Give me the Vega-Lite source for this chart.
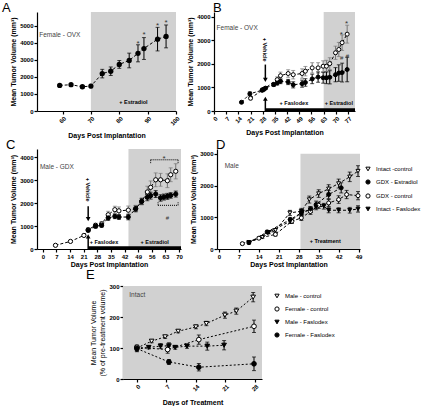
{
"$schema":"https://vega.github.io/schema/vega-lite/v6.json",
"background":"white",
"padding":{"left":2,"top":2,"right":0,"bottom":0},
"config":{
 "font":"Liberation Sans",
 "view":{"stroke":null},
 "axis":{"grid":false,"domainColor":"black","domainWidth":1.2,"tickColor":"black","tickWidth":1.2,"tickSize":3,"labelColor":"black","labelFontSize":6,"labelFontWeight":"bold","labelPadding":1,"titleColor":"black","titleFontSize":7,"titleFontWeight":"bold","titlePadding":3},
 "title":{"fontSize":13,"fontWeight":"normal","anchor":"start","frame":"group","color":"black"},
 "legend":{"labelFontSize":6,"labelColor":"black","symbolStrokeWidth":1,"symbolSize":18,"labelOffset":5,"padding":0,"rowPadding":4}
},
"datasets":{
 "A":[{"x":59,"v":1500,"e":50},{"x":63,"v":1540,"e":60},{"x":67,"v":1420,"e":70},{"x":70,"v":1460,"e":100},{"x":74,"v":2190,"e":250},{"x":77,"v":2330,"e":250},{"x":80,"v":2730,"e":230},{"x":83.5,"v":2960,"e":430},{"x":86.6,"v":3380,"e":500},{"x":88.7,"v":3660,"e":640},{"x":93.5,"v":4210,"e":690},{"x":96.5,"v":4370,"e":670}],
 "B":[
  {"s":"veh","x":21,"v":540,"e":60},{"s":"veh","x":28,"v":900,"e":80},{"s":"veh","x":36.3,"v":1330,"e":120},{"s":"veh","x":38.2,"v":1500,"e":150},{"s":"veh","x":42.6,"v":1590,"e":160},{"s":"veh","x":45.5,"v":1540,"e":180},{"s":"veh","x":50.6,"v":1590,"e":200},{"s":"veh","x":52.5,"v":1690,"e":200},{"s":"veh","x":56.4,"v":1830,"e":220},{"s":"veh","x":59.8,"v":1830,"e":220},{"s":"veh","x":62.7,"v":1900,"e":230},{"s":"veh","x":64.6,"v":1900,"e":250},{"s":"veh","x":66.5,"v":2010,"e":250},{"s":"veh","x":69.8,"v":2470,"e":280},{"s":"veh","x":71.7,"v":2610,"e":300},{"s":"veh","x":73.6,"v":2900,"e":330},{"s":"veh","x":76.5,"v":3260,"e":380},
  {"s":"fas","x":15.8,"v":370,"e":40},{"s":"fas","x":20.6,"v":730,"e":80},{"s":"fas","x":27.6,"v":880,"e":60},{"s":"fas","x":28.6,"v":920,"e":60},{"s":"fas","x":29.6,"v":970,"e":60},{"s":"fas","x":34.3,"v":1120,"e":80},{"s":"fas","x":36.3,"v":1190,"e":90},{"s":"fas","x":38.2,"v":1260,"e":100},{"s":"fas","x":42.6,"v":1230,"e":110},{"s":"fas","x":45.5,"v":1110,"e":130},{"s":"fas","x":50.6,"v":1160,"e":150},{"s":"fas","x":52.5,"v":1210,"e":160},{"s":"fas","x":56.4,"v":1360,"e":200},{"s":"fas","x":59.8,"v":1440,"e":220},{"s":"fas","x":62.7,"v":1410,"e":230},{"s":"fas","x":64.6,"v":1410,"e":250},{"s":"fas","x":66.5,"v":1430,"e":280},{"s":"fas","x":69.8,"v":1540,"e":300},{"s":"fas","x":71.7,"v":1610,"e":350},{"s":"fas","x":73.6,"v":1630,"e":400},{"s":"fas","x":76.5,"v":1760,"e":520}],
 "C":[
  {"s":"veh","x":6.5,"v":160,"e":30},{"s":"veh","x":14.2,"v":330,"e":40},{"s":"veh","x":21.1,"v":590,"e":50},{"s":"veh","x":23.3,"v":840,"e":80},{"s":"veh","x":27.1,"v":1030,"e":90},{"s":"veh","x":30.2,"v":1090,"e":100},{"s":"veh","x":33.6,"v":1490,"e":150},{"s":"veh","x":37,"v":1710,"e":150},{"s":"veh","x":39.1,"v":1660,"e":170},{"s":"veh","x":43.9,"v":1690,"e":180},{"s":"veh","x":47.7,"v":1750,"e":150},{"s":"veh","x":50.8,"v":2070,"e":150},{"s":"veh","x":53.7,"v":2480,"e":250},{"s":"veh","x":55.4,"v":2680,"e":280},{"s":"veh","x":58,"v":3010,"e":300},{"s":"veh","x":60.5,"v":3010,"e":280},{"s":"veh","x":64,"v":2970,"e":300},{"s":"veh","x":65.7,"v":3230,"e":300},{"s":"veh","x":68.3,"v":3380,"e":330},
  {"s":"fas","x":23.3,"v":810,"e":60},{"s":"fas","x":27.1,"v":990,"e":80},{"s":"fas","x":30.2,"v":1030,"e":80},{"s":"fas","x":33.6,"v":1350,"e":100},{"s":"fas","x":37,"v":1420,"e":100},{"s":"fas","x":39.1,"v":1390,"e":100},{"s":"fas","x":43.9,"v":1390,"e":120},{"s":"fas","x":47.7,"v":1750,"e":120},{"s":"fas","x":50.8,"v":2070,"e":130},{"s":"fas","x":53.7,"v":2250,"e":150},{"s":"fas","x":55.4,"v":2320,"e":150},{"s":"fas","x":58,"v":2390,"e":150},{"s":"fas","x":60.5,"v":2220,"e":140},{"s":"fas","x":62.2,"v":2260,"e":130},{"s":"fas","x":64,"v":2290,"e":130},{"s":"fas","x":65.7,"v":2330,"e":120},{"s":"fas","x":68.3,"v":2390,"e":130}],
 "D":[
  {"s":"Intact -control","x":10.5,"v":212,"e":30},{"s":"Intact -control","x":15.2,"v":369,"e":40},{"s":"Intact -control","x":19.8,"v":590,"e":50},{"s":"Intact -control","x":24.9,"v":1137,"e":80},{"s":"Intact -control","x":28.9,"v":1190,"e":90},{"s":"Intact -control","x":31.7,"v":1557,"e":110},{"s":"Intact -control","x":35,"v":1746,"e":120},{"s":"Intact -control","x":38.5,"v":1895,"e":130},{"s":"Intact -control","x":42,"v":2062,"e":140},{"s":"Intact -control","x":45.9,"v":2273,"e":150},{"s":"Intact -control","x":48.8,"v":2454,"e":170},
  {"s":"GDX - Estradiol","x":10.5,"v":200,"e":30},{"s":"GDX - Estradiol","x":16.9,"v":537,"e":50},{"s":"GDX - Estradiol","x":25,"v":926,"e":70},{"s":"GDX - Estradiol","x":28.9,"v":1137,"e":80},{"s":"GDX - Estradiol","x":32.1,"v":1242,"e":90},{"s":"GDX - Estradiol","x":34.1,"v":1400,"e":110},{"s":"GDX - Estradiol","x":38.5,"v":1716,"e":130},{"s":"GDX - Estradiol","x":42.9,"v":1926,"e":160},
  {"s":"GDX - control","x":8.2,"v":168,"e":30},{"s":"GDX - control","x":14,"v":340,"e":40},{"s":"GDX - control","x":19.8,"v":460,"e":50},{"s":"GDX - control","x":25.6,"v":874,"e":70},{"s":"GDX - control","x":28.9,"v":979,"e":80},{"s":"GDX - control","x":32.1,"v":1180,"e":90},{"s":"GDX - control","x":35,"v":1378,"e":100},{"s":"GDX - control","x":38.5,"v":1450,"e":110},{"s":"GDX - control","x":42,"v":1557,"e":120},{"s":"GDX - control","x":44.8,"v":1716,"e":130},{"s":"GDX - control","x":48.8,"v":1680,"e":130},
  {"s":"Intact - Faslodex","x":10.5,"v":190,"e":30},{"s":"Intact - Faslodex","x":17.5,"v":527,"e":50},{"s":"Intact - Faslodex","x":25,"v":874,"e":70},{"s":"Intact - Faslodex","x":29.2,"v":1158,"e":80},{"s":"Intact - Faslodex","x":32.1,"v":1242,"e":90},{"s":"Intact - Faslodex","x":34.1,"v":1326,"e":90},{"s":"Intact - Faslodex","x":36.8,"v":1347,"e":90},{"s":"Intact - Faslodex","x":38.5,"v":1221,"e":80},{"s":"Intact - Faslodex","x":42,"v":1221,"e":80},{"s":"Intact - Faslodex","x":45.9,"v":1221,"e":90},{"s":"Intact - Faslodex","x":48.8,"v":1263,"e":100}],
 "E":[
  {"s":"Male - control","x":0,"v":100,"e":5},{"s":"Male - control","x":3.5,"v":122,"e":5},{"s":"Male - control","x":6.7,"v":136,"e":5},{"s":"Male - control","x":9.8,"v":154,"e":5},{"s":"Male - control","x":14,"v":168,"e":6},{"s":"Male - control","x":16.5,"v":179,"e":7},{"s":"Male - control","x":20.9,"v":206,"e":10},{"s":"Male - control","x":23.6,"v":219,"e":10},{"s":"Male - control","x":27.6,"v":264,"e":15},
  {"s":"Female - control","x":0,"v":102,"e":8},{"s":"Female - control","x":7.3,"v":95,"e":12},{"s":"Female - control","x":14.7,"v":127,"e":15},{"s":"Female - control","x":27.8,"v":170,"e":20},
  {"s":"Male - Faslodex","x":0,"v":96,"e":8},{"s":"Male - Faslodex","x":2.8,"v":102,"e":5},{"s":"Male - Faslodex","x":5.6,"v":106,"e":8},{"s":"Male - Faslodex","x":7.6,"v":107,"e":10},{"s":"Male - Faslodex","x":9.1,"v":102,"e":6},{"s":"Male - Faslodex","x":11.9,"v":106,"e":7},{"s":"Male - Faslodex","x":16.7,"v":106,"e":13},{"s":"Male - Faslodex","x":20.7,"v":109,"e":15},
  {"s":"Female - Faslodex","x":0,"v":98,"e":8},{"s":"Female - Faslodex","x":7.6,"v":55,"e":8},{"s":"Female - Faslodex","x":14.7,"v":38,"e":12},{"s":"Female - Faslodex","x":27.8,"v":49,"e":22}]
},
"resolve":{"scale":{"color":"independent","fill":"independent","shape":"independent","stroke":"independent"}},
"spacing":2,
"center":true,
"vconcat":[
 {"resolve":{"scale":{"color":"independent","fill":"independent","shape":"independent","stroke":"independent"}},
  "vconcat":[
  {"resolve":{"scale":{"color":"independent","fill":"independent","shape":"independent","stroke":"independent"}},
   "hconcat":[
   {"title":{"text":"A","dx":-35,"offset":-3},
    "width":139,"height":99,
    "data":{"name":"A"},
    "encoding":{
     "x":{"field":"x","type":"quantitative","scale":{"domain":[51,100],"nice":false,"zero":false},"axis":{"title":"Days Post Implantation","values":[60,70,80,90,100],"labelAngle":-45,"titlePadding":5}},
     "y":{"field":"v","type":"quantitative","scale":{"domain":[0,5800],"nice":false},"axis":{"title":"Mean Tumor Volume (mm³)","values":[0,1000,2000,3000,4000,5000],"format":"d"}}},
    "layer":[
     {"data":{"values":[{"x":70,"x2":100,"v":0,"v2":5800}]},"mark":{"type":"rect","color":"#d1d1d1"},"encoding":{"x2":{"field":"x2"},"y2":{"field":"v2"}}},
     {"data":{"values":[{"x":51.8,"v":4450,"t":"Female - OVX"}]},"mark":{"type":"text","fontSize":6.5,"align":"left","color":"#444"},"encoding":{"text":{"field":"t"}}},
     {"data":{"values":[{"x":85,"v":500,"t":"+ Estradiol"}]},"mark":{"type":"text","fontSize":5.5,"fontWeight":"bold"},"encoding":{"text":{"field":"t"}}},
     {"mark":{"type":"errorbar","color":"black","thickness":1,"size":4,"ticks":true},"encoding":{"yError":{"field":"e"}}},
     {"mark":{"type":"line","color":"black","strokeWidth":1,"strokeDash":[3,2]},"encoding":{}},
     {"mark":{"type":"circle","color":"black","size":28,"opacity":1},"encoding":{}},
     {"data":{"values":[{"x":86.6,"v":3950,"t":"*"},{"x":88.7,"v":4440,"t":"*"},{"x":93.5,"v":5000,"t":"*"},{"x":96.5,"v":5150,"t":"*"}]},"mark":{"type":"text","fontSize":8,"color":"#333"},"encoding":{"text":{"field":"t"}}}
    ]},
   {"title":{"text":"B","dx":-1,"offset":-3},
    "width":141,"height":99,
    "data":{"name":"B"},
    "encoding":{
     "x":{"field":"x","type":"quantitative","scale":{"domain":[0,81],"nice":false},"axis":{"title":"Days Post Implantation","values":[0,7,14,21,28,35,42,49,56,63,70,77],"labelAngle":-45,"titlePadding":5}},
     "y":{"field":"v","type":"quantitative","scale":{"domain":[0,4200],"nice":false},"axis":{"title":"Mean Tumor Volume (mm³)","values":[0,1000,2000,3000,4000],"format":"d"}}},
    "layer":[
     {"data":{"values":[{"x":63,"x2":81,"v":0,"v2":4200}]},"mark":{"type":"rect","color":"#d1d1d1"},"encoding":{"x2":{"field":"x2"},"y2":{"field":"v2"}}},
     {"data":{"values":[{"x":1.5,"v":3530,"t":"Female - OVX"}]},"mark":{"type":"text","fontSize":6.5,"align":"left","color":"#444"},"encoding":{"text":{"field":"t"}}},
     {"data":{"values":[{"x":29.5,"x2":81,"v":55}]},"mark":{"type":"rule","color":"black","strokeWidth":3},"encoding":{"x2":{"field":"x2"}}},
     {"data":{"values":[{"x":29.5,"v":2600,"t":"+ Vehicle"}]},"mark":{"type":"text","fontSize":5.5,"fontWeight":"bold","angle":90},"encoding":{"text":{"field":"t"}}},
     {"data":{"values":[{"x":29.5,"v":1970,"v2":1330},{"x":29.5,"v":0,"v2":500}]},"mark":{"type":"rule","color":"black","strokeWidth":1.5},"encoding":{"y2":{"field":"v2"}}},
     {"data":{"values":[{"x":29.5,"v":1320,"d":"down"},{"x":29.5,"v":520,"d":"up"}]},"mark":{"type":"point","filled":true,"color":"black","size":22,"opacity":1},"encoding":{"shape":{"field":"d","type":"nominal","scale":{"domain":["down","up"],"range":["triangle-down","triangle-up"]},"legend":null}}},
     {"data":{"values":[{"x":45.9,"v":340,"t":"+ Faslodex"},{"x":71.7,"v":340,"t":"+ Estradiol"}]},"mark":{"type":"text","fontSize":5.5,"fontWeight":"bold"},"encoding":{"text":{"field":"t"}}},
     {"mark":{"type":"errorbar","thickness":1,"size":4,"ticks":true},"encoding":{"yError":{"field":"e"},"color":{"field":"s","type":"nominal","scale":{"domain":["veh","fas"],"range":["#777777","black"]},"legend":null}}},
     {"mark":{"type":"line","color":"black","strokeWidth":1,"strokeDash":[3,2]},"encoding":{"detail":{"field":"s"}}},
     {"mark":{"type":"point","stroke":"black","strokeWidth":1,"opacity":1,"size":16},"encoding":{"fill":{"field":"s","type":"nominal","scale":{"domain":["veh","fas"],"range":["white","black"]},"legend":null}}},
     {"data":{"values":[{"x":76.1,"v":3680,"t":"*"},{"x":73.2,"v":3210,"t":"*"}]},"mark":{"type":"text","fontSize":8,"color":"#333"},"encoding":{"text":{"field":"t"}}},
     {"data":{"values":[{"x":76.7,"v":2350,"t":"#"},{"x":73.4,"v":2250,"t":"#"}]},"mark":{"type":"text","fontSize":6,"color":"#333","baseline":"middle"},"encoding":{"text":{"field":"t"}}}
    ]}
  ],"spacing":5},
  {"resolve":{"scale":{"color":"independent","fill":"independent","shape":"independent","stroke":"independent"}},
   "hconcat":[
   {"title":{"text":"C","dx":-31,"offset":-3},
    "width":144,"height":100,
    "data":{"name":"C"},
    "encoding":{
     "x":{"field":"x","type":"quantitative","scale":{"domain":[-3,71],"nice":false,"zero":false},"axis":{"title":"Days Post Implantation","values":[0,7,14,21,28,35,42,49,56,63,70],"labelAngle":0,"titlePadding":1}},
     "y":{"field":"v","type":"quantitative","scale":{"domain":[0,4350],"nice":false},"axis":{"title":"Mean Tumor Volume (mm³)","values":[0,1000,2000,3000,4000],"format":"d"}}},
    "layer":[
     {"data":{"values":[{"x":44,"x2":71,"v":0,"v2":4350}]},"mark":{"type":"rect","color":"#d1d1d1"},"encoding":{"x2":{"field":"x2"},"y2":{"field":"v2"}}},
     {"data":{"values":[{"x":-1.5,"v":3550,"t":"Male - GDX"}]},"mark":{"type":"text","fontSize":6.5,"align":"left","color":"#444"},"encoding":{"text":{"field":"t"}}},
     {"data":{"values":[{"x":23.3,"x2":71,"v":55}]},"mark":{"type":"rule","color":"black","strokeWidth":3},"encoding":{"x2":{"field":"x2"}}},
     {"data":{"values":[{"x":23.3,"v":2580,"t":"+ Vehicle"}]},"mark":{"type":"text","fontSize":5.5,"fontWeight":"bold","angle":90},"encoding":{"text":{"field":"t"}}},
     {"data":{"values":[{"x":23.3,"v":1855,"v2":1330},{"x":23.3,"v":0,"v2":520}]},"mark":{"type":"rule","color":"black","strokeWidth":1.5},"encoding":{"y2":{"field":"v2"}}},
     {"data":{"values":[{"x":23.3,"v":1300,"d":"down"},{"x":23.3,"v":550,"d":"up"}]},"mark":{"type":"point","filled":true,"color":"black","size":22,"opacity":1},"encoding":{"shape":{"field":"d","type":"nominal","scale":{"domain":["down","up"],"range":["triangle-down","triangle-up"]},"legend":null}}},
     {"data":{"values":[{"x":31.4,"v":300,"t":"+ Faslodex"},{"x":57.5,"v":300,"t":"+ Estradiol"}]},"mark":{"type":"text","fontSize":5.5,"fontWeight":"bold"},"encoding":{"text":{"field":"t"}}},
     {"data":{"values":[{"x":55.4,"x2":69.5,"v":3880},{"x":59.2,"x2":69.5,"v":1900}]},"mark":{"type":"rule","color":"black","strokeWidth":1,"strokeDash":[1,1]},"encoding":{"x2":{"field":"x2"}}},
     {"data":{"values":[{"x":55.4,"v":3880,"v2":3700},{"x":69.5,"v":3880,"v2":3700},{"x":59.2,"v":1900,"v2":2070},{"x":69.5,"v":1900,"v2":2070}]},"mark":{"type":"rule","color":"black","strokeWidth":1,"strokeDash":[1,1]},"encoding":{"y2":{"field":"v2"}}},
     {"data":{"values":[{"x":62.3,"v":3900,"t":"*"}]},"mark":{"type":"text","fontSize":8,"color":"#333"},"encoding":{"text":{"field":"t"}}},
     {"data":{"values":[{"x":64,"v":1350,"t":"#"}]},"mark":{"type":"text","fontSize":6,"color":"#333","baseline":"middle"},"encoding":{"text":{"field":"t"}}},
     {"mark":{"type":"errorbar","thickness":1,"size":4,"ticks":true},"encoding":{"yError":{"field":"e"},"color":{"field":"s","type":"nominal","scale":{"domain":["veh","fas"],"range":["#777777","black"]},"legend":null}}},
     {"mark":{"type":"line","color":"black","strokeWidth":1,"strokeDash":[3,2]},"encoding":{"detail":{"field":"s"}}},
     {"mark":{"type":"point","stroke":"black","strokeWidth":1,"opacity":1,"size":18},"encoding":{"fill":{"field":"s","type":"nominal","scale":{"domain":["veh","fas"],"range":["white","black"]},"legend":null}}}
    ]},
   {"title":{"text":"D","dx":-1,"offset":-3},
    "width":143,"height":100,
    "data":{"name":"D"},
    "encoding":{
     "x":{"field":"x","type":"quantitative","scale":{"domain":[-0.7,49.5],"nice":false,"zero":false},"axis":{"title":"Days Post Implantation","values":[0,7,14,21,28,35,42,49],"labelAngle":0,"titlePadding":1}},
     "y":{"field":"v","type":"quantitative","scale":{"domain":[0,3150],"nice":false},"axis":{"title":"Mean Tumor Volume (mm³)","values":[0,1000,2000,3000],"format":"d"}}},
    "layer":[
     {"data":{"values":[{"x":28.6,"x2":49.5,"v":0,"v2":3000}]},"mark":{"type":"rect","color":"#d1d1d1"},"encoding":{"x2":{"field":"x2"},"y2":{"field":"v2"}}},
     {"data":{"values":[{"x":2,"v":2630,"t":"Male"}]},"mark":{"type":"text","fontSize":6.5,"align":"left","color":"#444"},"encoding":{"text":{"field":"t"}}},
     {"data":{"values":[{"x":37.3,"v":265,"t":"+ Treatment"}]},"mark":{"type":"text","fontSize":5.5,"fontWeight":"bold"},"encoding":{"text":{"field":"t"}}},
     {"mark":{"type":"errorbar","color":"black","thickness":1,"size":4,"ticks":true},"encoding":{"yError":{"field":"e"}}},
     {"mark":{"type":"line","color":"black","strokeWidth":1,"strokeDash":[3,2]},"encoding":{"detail":{"field":"s"}}},
     {"mark":{"type":"point","strokeWidth":1,"opacity":1,"size":16},"encoding":{
       "shape":{"field":"s","type":"nominal","scale":{"domain":["Intact -control","GDX - Estradiol","GDX - control","Intact - Faslodex"],"range":["triangle-down","circle","circle","triangle-down"]},"legend":{"title":null,"orient":"none","legendX":148,"legendY":17}},
       "fill":{"field":"s","type":"nominal","scale":{"domain":["Intact -control","GDX - Estradiol","GDX - control","Intact - Faslodex"],"range":["white","black","white","black"]},"legend":{"title":null,"orient":"none","legendX":148,"legendY":17}},
       "stroke":{"field":"s","type":"nominal","scale":{"domain":["Intact -control","GDX - Estradiol","GDX - control","Intact - Faslodex"],"range":["black","black","black","black"]},"legend":{"title":null,"orient":"none","legendX":148,"legendY":17}}}}
    ]}
  ],"spacing":6}
 ],"spacing":0},
 {"title":{"text":"E","dx":-37,"offset":1},
  "width":139,"height":93,
  "data":{"name":"E"},
  "encoding":{
   "x":{"field":"x","type":"quantitative","scale":{"domain":[-3.3,29.7],"nice":false,"zero":false},"axis":{"title":"Days of Treatment","values":[0,7,14,21,28],"labelAngle":-45,"titlePadding":7}},
   "y":{"field":"v","type":"quantitative","scale":{"domain":[0,300],"nice":false},"axis":{"title":["Mean Tumor Volume","(% of pre-treatment volume)"],"titleFontWeight":"normal","values":[0,100,200,300],"format":"d"}}},
  "layer":[
   {"data":{"values":[{"x":-3.3,"x2":29.7,"v":0,"v2":300}]},"mark":{"type":"rect","color":"#d1d1d1"},"encoding":{"x2":{"field":"x2"},"y2":{"field":"v2"}}},
   {"data":{"values":[{"x":-1.8,"v":271,"t":"Intact"}]},"mark":{"type":"text","fontSize":6.5,"align":"left","color":"#444"},"encoding":{"text":{"field":"t"}}},
   {"mark":{"type":"errorbar","color":"black","thickness":1,"size":4,"ticks":true},"encoding":{"yError":{"field":"e"}}},
   {"mark":{"type":"line","color":"black","strokeWidth":1,"strokeDash":[2,2]},"encoding":{"detail":{"field":"s"}}},
   {"mark":{"type":"point","strokeWidth":1,"opacity":1,"size":22},"encoding":{
     "shape":{"field":"s","type":"nominal","scale":{"domain":["Male - control","Female - control","Male - Faslodex","Female - Faslodex"],"range":["triangle-down","circle","triangle-down","circle"]},"legend":{"title":null,"orient":"none","legendX":151,"legendY":7}},
     "fill":{"field":"s","type":"nominal","scale":{"domain":["Male - control","Female - control","Male - Faslodex","Female - Faslodex"],"range":["white","white","black","black"]},"legend":{"title":null,"orient":"none","legendX":151,"legendY":7}},
     "stroke":{"field":"s","type":"nominal","scale":{"domain":["Male - control","Female - control","Male - Faslodex","Female - Faslodex"],"range":["black","black","black","black"]},"legend":{"title":null,"orient":"none","legendX":151,"legendY":7}}}}
  ]}
]
}
